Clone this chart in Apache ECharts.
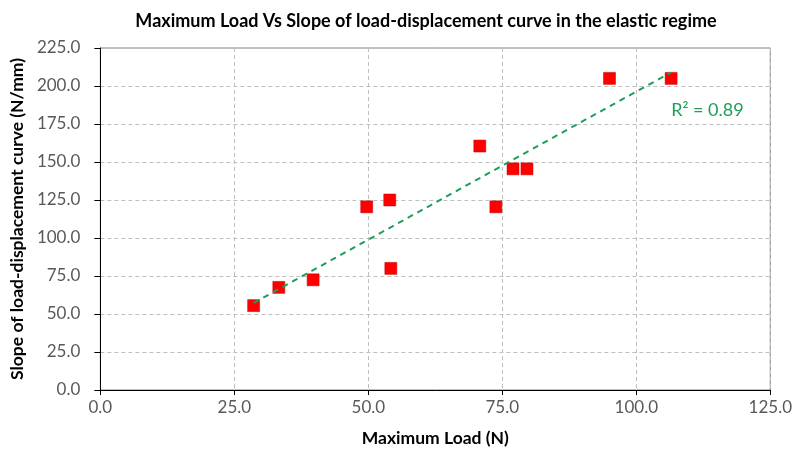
<!DOCTYPE html>
<html><head><meta charset="utf-8">
<script src="https://cdn.jsdelivr.net/npm/echarts@6/dist/echarts.min.js"></script>
<style>html,body{margin:0;padding:0;background:#fff}#c{width:795px;height:452px}</style>
</head><body><div id="c"></div>
<script>
var title = "Maximum Load Vs Slope of load-displacement curve in the elastic regime";
var xName = "Maximum Load (N)";
var yName = "Slope of load-displacement curve (N/mm)";
var maxLoad = [28.6, 33.3, 39.7, 49.7, 54.0, 54.2, 70.8, 73.8, 77.0, 79.6, 95.0, 106.5];
var slope =   [55.5, 67.5, 72.5, 120.5, 125.0, 80.0, 160.5, 120.5, 145.5, 145.5, 205.0, 205.0];
var r2Text = "R\u00b2 = 0.89";

// least-squares trendline from the data
var n = maxLoad.length, sx = 0, sy = 0, sxx = 0, sxy = 0;
for (var i = 0; i < n; i++) { sx += maxLoad[i]; sy += slope[i]; sxx += maxLoad[i]*maxLoad[i]; sxy += maxLoad[i]*slope[i]; }
var b = (n*sxy - sx*sy) / (n*sxx - sx*sx), a = (sy - b*sx) / n;
var xMin = Math.min.apply(null, maxLoad), xMax = Math.max.apply(null, maxLoad);
var trend = [[xMin, a + b*xMin], [xMax, a + b*xMax]];

var font = "Lato, 'Noto Sans', sans-serif";
var chart = echarts.init(document.getElementById('c'));
chart.setOption({
  animation: false,
  title: { text: title, left: 421, top: 7, textAlign: 'center',
    textStyle: { fontFamily: font, fontSize: 18, fontWeight: 'bold', color: '#000' } },
  grid: { left: 98, right: 22, top: 48, bottom: 62, show: true, borderColor: '#808080', borderWidth: 1 },
  xAxis: { type: 'value', min: 0, max: 125, interval: 25, name: xName, nameLocation: 'middle', nameGap: 39,
    nameTextStyle: { fontFamily: font, fontSize: 17.5, fontWeight: 'bold', color: '#000' },
    axisLine: { lineStyle: { color: '#000' } }, axisTick: { show: true, length: 5, lineStyle: { color: '#000' } },
    axisLabel: { fontFamily: font, fontSize: 17, color: '#595959', margin: 9, formatter: function(v){return v.toFixed(1);} },
    splitLine: { lineStyle: { color: '#bfbfbf', type: [4, 3] } } },
  yAxis: { type: 'value', min: 0, max: 225, interval: 25, name: yName, nameLocation: 'middle', nameGap: 67,
    nameTextStyle: { fontFamily: font, fontSize: 17.5, fontWeight: 'bold', color: '#000' },
    axisLine: { show: true, lineStyle: { color: '#000' } }, axisTick: { show: true, length: 6, lineStyle: { color: '#000' } },
    axisLabel: { fontFamily: font, fontSize: 17, color: '#595959', margin: 20, formatter: function(v){return v.toFixed(1);} },
    splitLine: { lineStyle: { color: '#bfbfbf', type: [4, 3] } } },
  series: [
    { type: 'line', data: trend, symbol: 'none', z: 3,
      lineStyle: { color: '#1e9e5a', width: 2, type: [6, 5] } },
    { type: 'scatter', data: maxLoad.map(function(x, i){ return [x, slope[i]]; }), z: 2,
      symbol: 'rect', symbolSize: 12, itemStyle: { color: '#ff0000', borderColor: '#c00000', borderWidth: 0.5, opacity: 1 } }
  ]
});
var p = chart.convertToPixel({ gridIndex: 0 }, [106.5, 184]);
chart.setOption({ graphic: [{ type: 'text', x: p[0], y: p[1],
  style: { text: r2Text, fontFamily: font, fontSize: 18, fill: '#1e9e5a', verticalAlign: 'middle', align: 'left' } }] });
</script></body></html>
